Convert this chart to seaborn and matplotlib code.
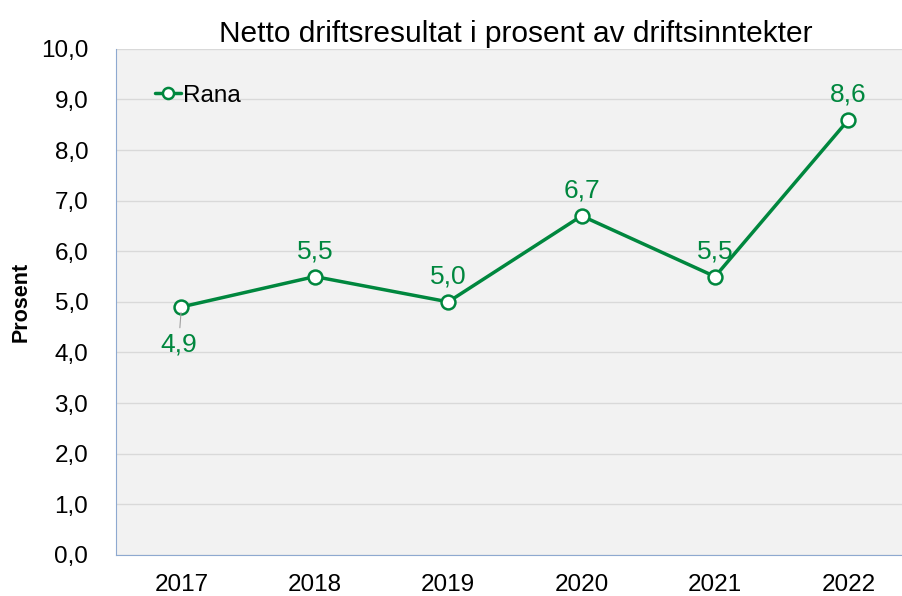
import matplotlib
matplotlib.use("Agg")
import matplotlib.pyplot as plt
import seaborn as sns
import pandas as pd

years = ["2017", "2018", "2019", "2020", "2021", "2022"]
rana = [4.9, 5.5, 5.0, 6.7, 5.5, 8.6]
yticks = [0, 1, 2, 3, 4, 5, 6, 7, 8, 9, 10]

green = "#00873E"

sns.set_style("white")
plt.rcParams["font.family"] = ["Liberation Sans", "DejaVu Sans"]
plt.rcParams["text.color"] = "black"
plt.rcParams["xtick.color"] = "black"
plt.rcParams["ytick.color"] = "black"
plt.rcParams["axes.labelcolor"] = "black"

df = pd.DataFrame({"year": years, "value": rana})

fig = plt.figure(figsize=(9.03, 5.96), dpi=100)
ax = fig.add_axes([0.1285, 0.069, 0.885, 0.849])
ax.set_facecolor("#F2F2F2")

sns.lineplot(data=df, x="year", y="value", ax=ax, color=green, linewidth=2.5,
             marker="o", markersize=10, markerfacecolor="white",
             markeredgecolor=green, markeredgewidth=1.8, label="Rana")

# data labels
for i, v in enumerate(rana):
    txt = f"{v:.1f}".replace(".", ",")
    if i == 0:
        ax.annotate(txt, (i, v), xytext=(-2, -27), textcoords="offset points",
                    ha="center", va="center", color=green, fontsize=19,
                    arrowprops=dict(arrowstyle="-", color="#A0A0A0", lw=0.8,
                                    shrinkA=1, shrinkB=4))
    else:
        ax.annotate(txt, (i, v), xytext=(0, 18), textcoords="offset points",
                    ha="center", va="center", color=green, fontsize=19)

ax.set_xlim(-0.49, 5.5)
ax.set_ylim(0, 10)
ax.set_yticks(yticks)
ax.set_yticklabels([f"{t:.1f}".replace(".", ",") for t in yticks])
ax.yaxis.grid(True, color="#D9D9D9", linewidth=1)
ax.set_axisbelow(True)
ax.tick_params(axis="both", labelsize=17.5, length=0)
ax.tick_params(axis="y", pad=20)
ax.tick_params(axis="x", pad=14)

for side in ["top", "right"]:
    ax.spines[side].set_visible(False)
ax.spines["left"].set_color("#8EA9D0")
ax.spines["bottom"].set_color("#8EA9D0")

ax.set_xlabel("")
ax.set_ylabel("Prosent", fontsize=15.5, fontweight="bold")
ax.yaxis.set_label_coords(-0.106, 0.5)
ax.set_title("Netto driftsresultat i prosent av driftsinntekter", fontsize=21.5, pad=5)

leg = ax.legend(loc="upper left", bbox_to_anchor=(0.022, 0.972), frameon=False,
                fontsize=17.5, handlelength=1.05, handletextpad=0.1)
for h in leg.legend_handles:
    h.set_markersize(8)

fig.savefig("out.png", dpi=100)
